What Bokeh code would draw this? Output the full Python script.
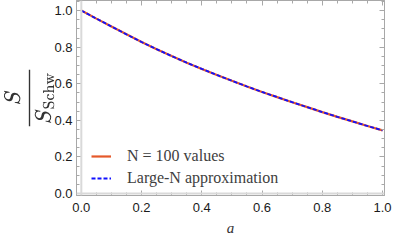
from bokeh.plotting import figure
from bokeh.models import (Legend, LegendItem, LinearAxis, Span, FixedTicker, Range1d,
                          PrintfTickFormatter)
from bokeh.embed import file_html
from bokeh.resources import INLINE

# data
a_vals = [0.00, 0.05, 0.10, 0.15, 0.20, 0.25, 0.30, 0.35, 0.40, 0.45, 0.50,
          0.55, 0.60, 0.65, 0.70, 0.75, 0.80, 0.85, 0.90, 0.95, 1.00]
s_n100 = [1.000, 0.956, 0.913, 0.870, 0.828, 0.789, 0.751, 0.715, 0.681, 0.648, 0.616,
          0.585, 0.555, 0.527, 0.499, 0.472, 0.445, 0.419, 0.394, 0.369, 0.345]
s_largeN = [1.000, 0.956, 0.913, 0.870, 0.828, 0.789, 0.751, 0.715, 0.681, 0.648, 0.616,
            0.585, 0.555, 0.527, 0.499, 0.472, 0.445, 0.419, 0.394, 0.369, 0.345]
ticks = [0.0, 0.2, 0.4, 0.6, 0.8, 1.0]
minor = [round(i * 0.05, 2) for i in range(-1, 22)]
series_labels = ["N = 100 values", "Large-N approximation"]

p = figure(width=393, height=244, output_backend="svg", toolbar_location=None,
           x_range=Range1d(-0.016, 1.0065), y_range=Range1d(-0.011, 1.055),
           min_border_left=60, min_border_right=9, min_border_top=0, min_border_bottom=49)

p.grid.visible = False
frame_gray = "#a8a8a8"
p.outline_line_color = frame_gray
p.background_fill_color = "white"
p.border_fill_color = "white"

tick_font = "Liberation Sans"


def style_axis(ax):
    ax.ticker = FixedTicker(ticks=ticks, minor_ticks=minor)
    ax.axis_line_color = frame_gray
    ax.major_tick_line_color = frame_gray
    ax.minor_tick_line_color = frame_gray
    ax.major_tick_in = 5
    ax.major_tick_out = 0
    ax.minor_tick_in = 3
    ax.minor_tick_out = 0


for ax in (p.xaxis[0], p.yaxis[0]):
    style_axis(ax)
    ax.formatter = PrintfTickFormatter(format="%.1f")
    ax.major_label_text_font = tick_font
    ax.major_label_text_font_size = "13px"
    ax.major_label_text_color = "#1a1a1a"

p.xaxis[0].major_label_standoff = 7
p.yaxis[0].major_label_standoff = 4

p.xaxis[0].axis_label = "a"
p.xaxis[0].axis_label_text_font = "Liberation Serif"
p.xaxis[0].axis_label_text_font_style = "italic"
p.xaxis[0].axis_label_text_font_size = "15px"
p.xaxis[0].axis_label_standoff = 5
p.xaxis[0].axis_label_text_color = "#333333"

p.yaxis[0].axis_label = r"$$\frac{S}{S_{\text{Schw}}}$$"
p.yaxis[0].axis_label_text_font_size = "18px"
p.yaxis[0].axis_label_standoff = -3
p.yaxis[0].axis_label_text_color = "#333333"

for loc in ("above", "right"):
    ax = LinearAxis()
    style_axis(ax)
    ax.major_label_text_color = None
    ax.major_label_standoff = 0
    p.add_layout(ax, loc)

p.add_layout(Span(location=0, dimension="height", line_color="#d9d9d9", line_width=2))
p.add_layout(Span(location=0, dimension="width", line_color="#d9d9d9", line_width=2))

r1 = p.line(a_vals, s_n100, line_color="#E5592A", line_width=2.2)
r2 = p.line(a_vals, s_largeN, line_color="#1010FF", line_width=1.8, line_dash="4 2")

legend = Legend(items=[LegendItem(label=series_labels[0], renderers=[r1]),
                       LegendItem(label=series_labels[1], renderers=[r2])],
                location=(15, 7), orientation="vertical")
legend.border_line_color = None
legend.background_fill_alpha = 0
legend.label_text_font = "Liberation Serif"
legend.label_text_font_size = "16px"
legend.label_text_color = "#404040"
legend.glyph_width = 20
legend.label_standoff = 16
legend.padding = 0
legend.margin = 0
legend.spacing = 2
legend.label_height = 20
legend.glyph_height = 20
p.add_layout(legend)

open("out.html", "w").write(file_html(p, INLINE))
